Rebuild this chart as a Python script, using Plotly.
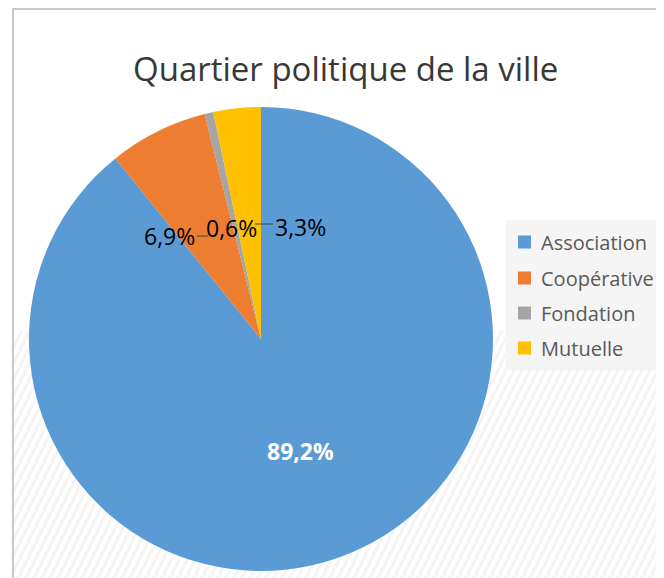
import math
import plotly.graph_objects as go

# ---- data ----
title_text = "Quartier politique de la ville"
categories = ["Association", "Coopérative", "Fondation", "Mutuelle"]
values = [89.2, 6.9, 0.6, 3.3]
colors = ["#5B9BD5", "#ED7D31", "#A5A5A5", "#FFC000"]

W, H = 664, 578
OX, OY = 8, 8  # page body margin offset


def px(x):
    return (x - OX) / W


def py(y):
    return 1 - (y - OY) / H


def fmt(v):
    return f"{v:.1f}".replace(".", ",") + "%"


total = sum(values)
pct = [v / total * 100 for v in values]

# pie geometry (pixels in the final screenshot)
cx, cy, R = 261, 339, 232

fig = go.Figure()
fig.add_trace(go.Pie(
    labels=categories,
    values=values,
    marker=dict(colors=colors, line=dict(width=0)),
    sort=False,
    direction="clockwise",
    rotation=0,
    textinfo="none",
    hoverinfo="label+percent",
    domain=dict(x=[px(cx - R), px(cx + R)], y=[py(cy + R), py(cy - R)]),
    showlegend=False,
))

shapes = []
# faint diagonal stripes background (lower part)
y_top, y_bot = 330, H + 10
slope = 0.5  # dx per dy
spacing = 8
k = -int((y_bot - y_top) * slope) - 10
while k < W + 20:
    x0 = k
    x1 = k + (y_bot - y_top) * slope
    shapes.append(dict(type="line", xref="paper", yref="paper",
                       x0=px(x0), y0=py(y_bot), x1=px(x1), y1=py(y_top),
                       line=dict(color="rgb(245,245,245)", width=3), layer="below"))
    k += spacing
# white cover for region outside the chart border
shapes.append(dict(type="rect", xref="paper", yref="paper", x0=-0.05, x1=px(12), y0=-0.05, y1=1.05,
                   fillcolor="white", line=dict(width=0), layer="below"))
# chart border
shapes.append(dict(type="line", xref="paper", yref="paper", x0=px(13), x1=px(13), y0=-0.05, y1=py(9),
                   line=dict(color="#C8C8C8", width=2)))
shapes.append(dict(type="line", xref="paper", yref="paper", x0=px(12), x1=1.05, y0=py(9), y1=py(9),
                   line=dict(color="#C8C8C8", width=2)))
# leader lines
shapes.append(dict(type="line", xref="paper", yref="paper", x0=px(197), x1=px(208), y0=py(236), y1=py(236),
                   line=dict(color="#404040", width=1)))
shapes.append(dict(type="line", xref="paper", yref="paper", x0=px(255), x1=px(273), y0=py(224), y1=py(224),
                   line=dict(color="#404040", width=1)))

# legend box
shapes.append(dict(type="rect", xref="paper", yref="paper", x0=px(506), x1=px(680), y0=py(370), y1=py(220),
                   fillcolor="rgba(243,243,243,0.85)", line=dict(width=0), layer="below"))

annotations = []
# legend entries
legend_rows = [242, 278, 313, 348]
for name, col, ry in zip(categories, colors, legend_rows):
    shapes.append(dict(type="rect", xref="paper", yref="paper",
                       x0=px(518), x1=px(531), y0=py(ry + 6.5), y1=py(ry - 6.5),
                       fillcolor=col, line=dict(width=0)))
    annotations.append(dict(text=name, x=px(539), y=py(ry), xref="paper", yref="paper",
                            xanchor="left", yanchor="middle", showarrow=False,
                            font=dict(family="Open Sans", size=20, color="#595959")))

# title
annotations.append(dict(text=title_text, x=px(345), y=py(68), xref="paper", yref="paper",
                        xanchor="center", yanchor="middle", showarrow=False,
                        font=dict(family="Open Sans", size=33, color="#383838")))

# big slice label inside, placed along slice mid-angle
mid_angle = pct[0] / 100 * 360 / 2
rr = 0.51 * R
lx = cx + rr * math.sin(math.radians(mid_angle))
ly = cy - rr * math.cos(math.radians(mid_angle))
annotations.append(dict(text="<b>" + fmt(pct[0]) + "</b>", x=px(lx), y=py(ly), xref="paper", yref="paper",
                        xanchor="center", yanchor="middle", showarrow=False,
                        font=dict(family="Open Sans", size=23, color="white")))
# outside labels
label_pos = [(169, 236), (232, 228), (300, 227)]
for v, (x, y) in zip(pct[1:], label_pos):
    annotations.append(dict(text=fmt(v), x=px(x), y=py(y), xref="paper", yref="paper",
                            xanchor="center", yanchor="middle", showarrow=False,
                            font=dict(family="Open Sans", size=23, color="black")))

fig.update_layout(
    width=W, height=H,
    margin=dict(l=0, r=0, t=0, b=0),
    paper_bgcolor="white",
    plot_bgcolor="white",
    shapes=shapes,
    annotations=annotations,
    showlegend=False,
)

fig.write_html("out.html")
